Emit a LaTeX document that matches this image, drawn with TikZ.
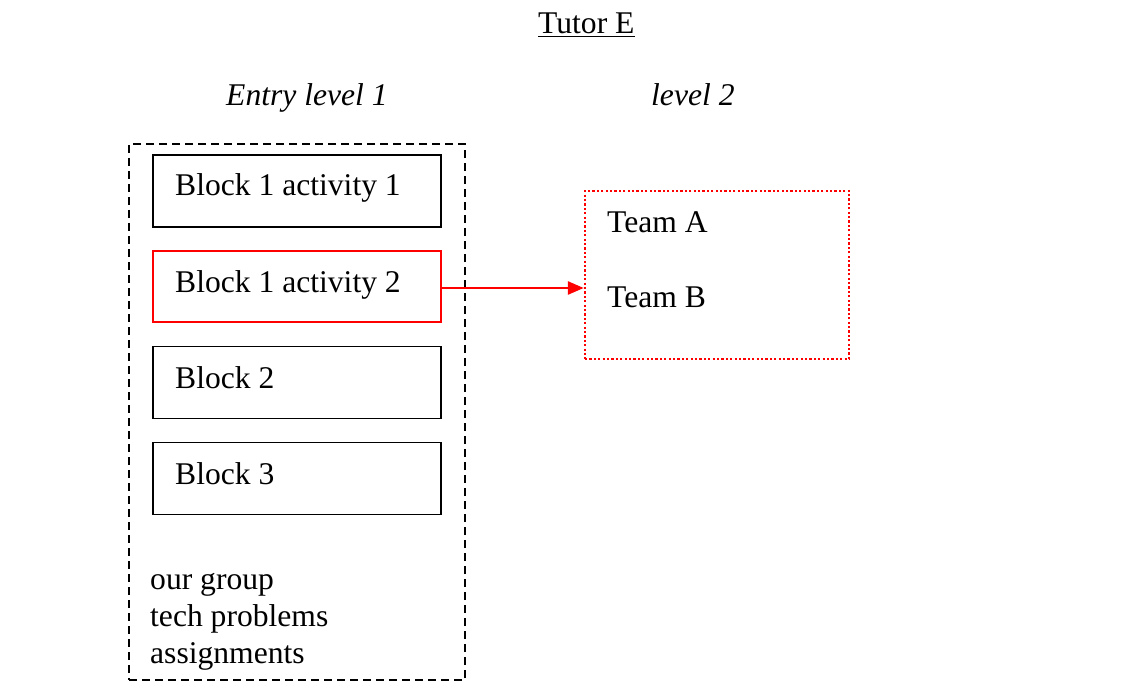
\documentclass[tikz,border=0pt]{standalone}
\usepackage{fontspec}
\setmainfont{Liberation Serif}
\usetikzlibrary{arrows.meta}
\begin{document}
\begin{tikzpicture}[x=1pt,y=-1pt,
  txt/.style={anchor=base west,inner sep=0pt,font=\fontsize{31.6}{37}\selectfont},
  blockbox/.style={draw,line width=1.8pt,minimum width=288pt,minimum height=72pt,inner sep=0pt},
  redbox/.style={draw=red,line width=2.4pt,minimum width=288pt,minimum height=71pt,inner sep=0pt},
  outerbox/.style={draw,line width=1.6pt,dash pattern=on 8pt off 5pt,minimum width=336pt,minimum height=536pt,inner sep=0pt},
  teambox/.style={draw=red,line width=2.4pt,dash pattern=on 2.2pt off 2.2pt,minimum width=264pt,minimum height=168pt,inner sep=0pt},
  redarrow/.style={draw=red,line width=2.6pt,-{Triangle[length=16pt,width=13pt]}}]
\useasboundingbox (0,0) rectangle (1130,682);
% titles
\node[txt] (tutor) at (538,34) {\underline{Tutor E}};
\node[txt] (lev1) at (226,106) {\itshape Entry level 1};
\node[txt] (lev2) at (651,106) {\itshape level 2};
% outer dashed box
\node[outerbox] (outer) at (297,412) {};
% blocks
\node[blockbox] (b1) at (297,191) {};
\node[redbox] (b2) at (297,286.5) {};
\node[blockbox] (b3) at (297,382.5) {};
\node[blockbox] (b4) at (297,478.5) {};
\node[txt] (t1) at (175,196) {Block 1 activity 1};
\node[txt] (t2) at (175,292) {Block 1 activity 2};
\node[txt] (t3) at (175,388) {Block 2};
\node[txt] (t4) at (175,484) {Block 3};
% list
\node[txt] (l1) at (150,589) {our group};
\node[txt] (l2) at (150,626) {tech problems};
\node[txt] (l3) at (150,663) {assignments};
% team box
\node[teambox] (team) at (717,275) {};
\node[txt] (ta) at (607,232) {Team A};
\node[txt] (tb) at (607,307) {Team B};
% arrow
\coordinate (arrstart) at ([yshift=-1.5pt]b2.east);
\draw[redarrow] (arrstart) -- (arrstart -| team.west);
\end{tikzpicture}
\end{document}
